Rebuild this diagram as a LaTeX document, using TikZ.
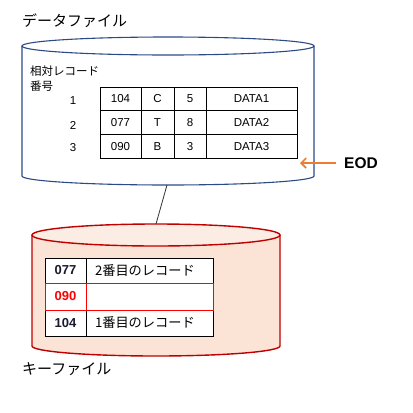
\documentclass[tikz,border=0pt]{standalone}
\usepackage{fontspec}
\setmainfont{Liberation Sans}
\newfontfamily\jp{Noto Sans CJK JP}
\usetikzlibrary{arrows.meta}
\definecolor{navyb}{HTML}{2E4A86}
\definecolor{darkred}{HTML}{C00000}
\definecolor{pinkf}{HTML}{FBE3D5}
\definecolor{pinkt}{HTML}{FCEDE4}
\definecolor{orng}{HTML}{ED7D31}
\definecolor{redtxt}{HTML}{FF0000}
\definecolor{numtxt}{HTML}{1A1A2E}
\begin{document}
\begin{tikzpicture}[x=1pt,y=-1pt,
  cell/.style={draw=black, line width=0.8pt, fill=white, inner sep=0pt, minimum height=23.7pt, font=\fontsize{11.5}{12}\selectfont},
  kcell/.style={draw=black, line width=0.8pt, fill=white, inner sep=0pt},
  knum/.style={kcell, minimum width=41pt, text=numtxt, font=\fontsize{13}{14}\selectfont\bfseries},
  ktext/.style={kcell, minimum width=127pt, text width=109pt, align=left, font=\fontsize{13.2}{14}\selectfont\jp},
  title/.style={anchor=west, inner sep=0pt, font=\fontsize{15}{16}\selectfont\jp},
  rownum/.style={inner sep=0pt, font=\fontsize{11.5}{12}\selectfont}]
\useasboundingbox[fill=white] (0,0) rectangle (413,413);

% ---- data file cylinder
\draw[navyb, line width=1.1pt, fill=white] (22,46) -- (22,176) arc[start angle=180, end angle=360, x radius=146pt, y radius=9pt] -- (314,46);
\draw[navyb, line width=1.1pt, fill=white] (168,46) ellipse [x radius=146pt, y radius=9pt];
\coordinate (dfb) at (167,185);
\node[title] (dftitle) at (22,21) {データファイル};

\node[anchor=north west, inner sep=0pt, align=left, font=\fontsize{11.5}{15}\selectfont\jp] (rel) at (30,66) {相対レコード\\番号};

\node[cell, minimum width=41pt] (a1) at (120.5,98.8) {104};
\node[cell, minimum width=33pt] (b1) at (157.5,98.8) {C};
\node[cell, minimum width=32pt] (c1) at (190,98.8) {5};
\node[cell, minimum width=91pt] (d1) at (251.5,98.8) {DATA1};
\node[cell, minimum width=41pt] (a2) at (120.5,122.5) {077};
\node[cell, minimum width=33pt] (b2) at (157.5,122.5) {T};
\node[cell, minimum width=32pt] (c2) at (190,122.5) {8};
\node[cell, minimum width=91pt] (d2) at (251.5,122.5) {DATA2};
\node[cell, minimum width=41pt] (a3) at (120.5,146.2) {090};
\node[cell, minimum width=33pt] (b3) at (157.5,146.2) {B};
\node[cell, minimum width=32pt] (c3) at (190,146.2) {3};
\node[cell, minimum width=91pt] (d3) at (251.5,146.2) {DATA3};

\node[rownum] (r1) at (73,101) {1};
\node[rownum] (r2) at (73,125) {2};
\node[rownum] (r3) at (73,148) {3};

% EOD
\node[inner sep=0pt, font=\fontsize{15.5}{16}\selectfont\bfseries] (eod) at (361,163) {EOD};
\coordinate (eodtip) at (300,163);
\draw[orng, line width=2pt, -{Straight Barb[length=5pt, width=10pt, line width=1.6pt]}] (eod.west) ++(-8pt,0) -- (eodtip);

% ---- key file cylinder
\fill[pinkf] (32,235) -- (32,346) arc[start angle=180, end angle=360, x radius=124pt, y radius=10pt] -- (280,235) -- cycle;
\draw[darkred, line width=1.4pt] (32,235) -- (32,346) arc[start angle=180, end angle=360, x radius=124pt, y radius=10pt] -- (280,235);
\draw[darkred, line width=1.4pt, fill=pinkt] (156,235) ellipse [x radius=124pt, y radius=11pt];
\coordinate (kft) at (156,224);
\node[title] (kftitle) at (22,369) {キーファイル};

\node[knum, minimum height=25pt] (k1) at (65.5,270.5) {077};
\node[ktext, minimum height=25pt] (t1) at (149.5,270.5) {2番目のレコード};
\node[knum, minimum height=26pt] (k3) at (65.5,323) {104};
\node[ktext, minimum height=26pt] (t3) at (149.5,323) {1番目のレコード};
\node[knum, draw=redtxt, text=redtxt, minimum height=27pt] (k2) at (65.5,296.5) {090};
\node[ktext, draw=redtxt, minimum height=27pt] (t2) at (149.5,296.5) {};

% connector
\draw[black!80, line width=0.8pt] (dfb) -- (kft);
\end{tikzpicture}
\end{document}
